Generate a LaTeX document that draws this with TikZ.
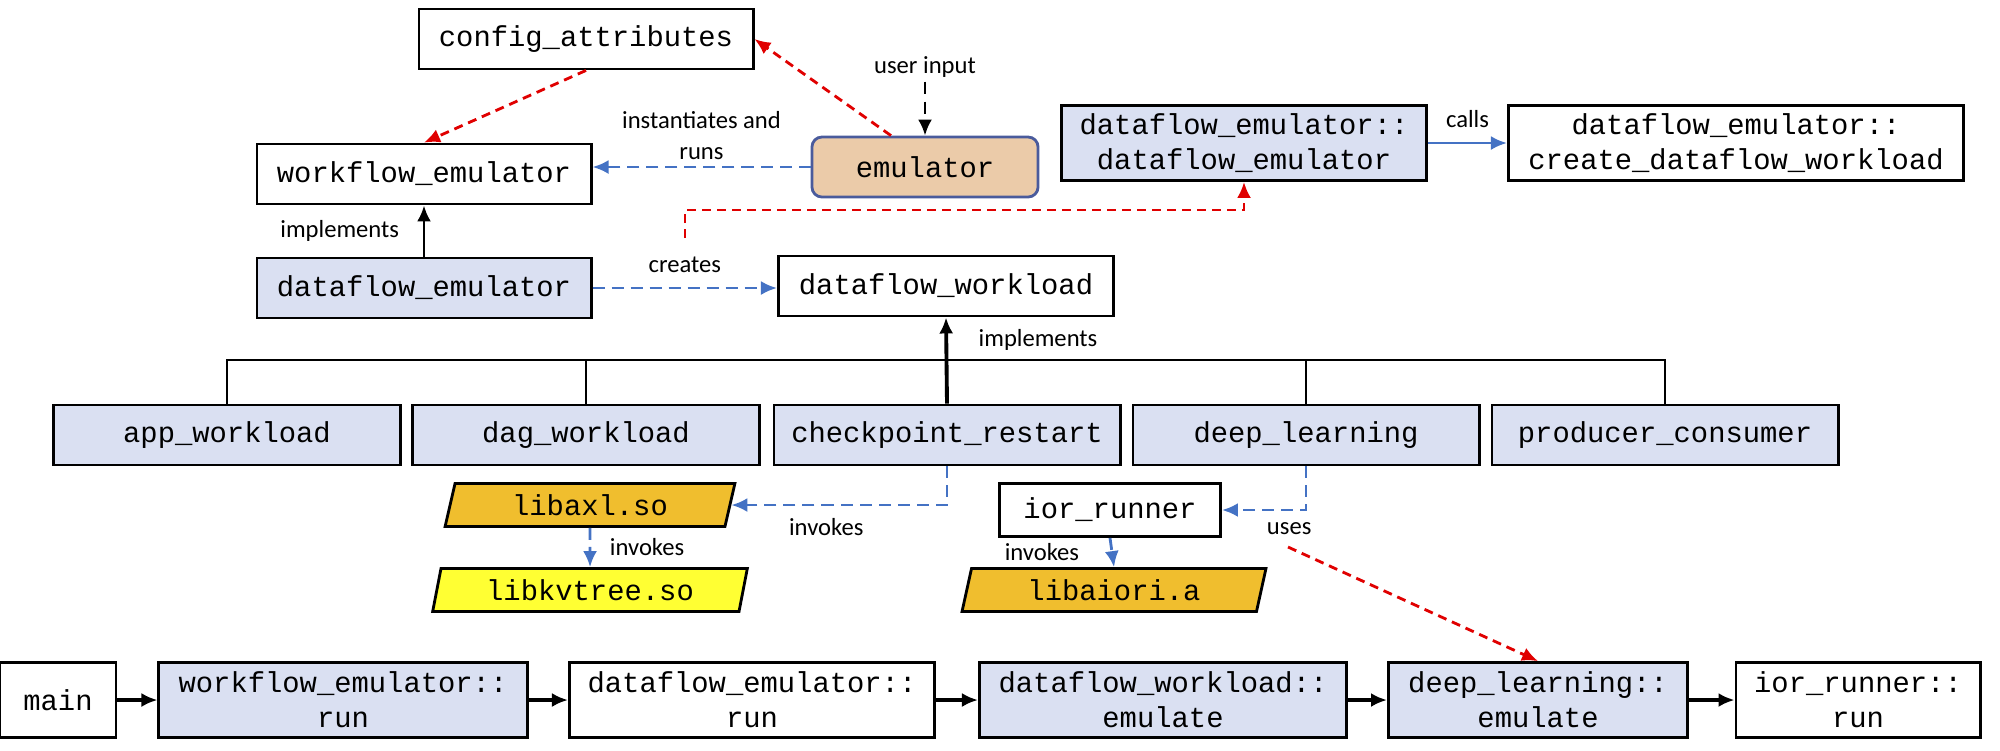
\documentclass[tikz,border=0pt]{standalone}
\usepackage{fontspec}
\setmainfont{Carlito}
\setmonofont{Liberation Mono}
\usetikzlibrary{arrows.meta,shapes.geometric}
\definecolor{clsblue}{HTML}{DAE0F2}
\definecolor{emupeach}{HTML}{EBCBA9}
\definecolor{emuedge}{HTML}{4A5B9C}
\definecolor{libgold}{HTML}{F0BE2E}
\definecolor{libyellow}{HTML}{FFFF33}
\definecolor{linkblue}{HTML}{4472C4}
\definecolor{linkred}{HTML}{E00000}
\begin{document}
\begin{tikzpicture}[x=0.01cm,y=-0.01cm,
  box/.style={draw,line width=0.8pt,minimum height=6mm,inner sep=1pt,align=center,font=\fontsize{8.2}{10}\selectfont\ttfamily},
  cls/.style={box,fill=clsblue},
  lib/.style={box,trapezium,trapezium left angle=78,trapezium right angle=102,trapezium stretches=true,minimum height=4.3mm},
  lbl/.style={inner sep=1pt,align=center,font=\fontsize{7}{8.8}\selectfont},
  tip/.style={-{Latex[length=1.6mm,width=1.4mm]}},
  bdash/.style={tip,draw=linkblue,line width=0.8pt,dash pattern=on 1.2mm off 0.7mm},
  rdash/.style={tip,draw=linkred,line width=0.8pt,dash pattern=on 0.9mm off 0.6mm}]
\useasboundingbox (0,0) rectangle (2000,750);

% 設定とエミュレータ
\node[box,minimum width=33.4mm] (cfg) at (586,39) {config\_attributes};
\node[box,fill=emupeach,draw=emuedge,rounded corners=1mm,minimum width=22.6mm] (emu) at (925,167) {emulator};
\node[lbl] (luser) at (925,67) {user input};
\draw[tip,line width=0.8pt,dash pattern=on 1.2mm off 0.8mm] (luser) -- (emu);

% ワークフロー
\node[box,minimum width=33.4mm] (wfe) at (424,174) {workflow\_emulator};
\node[cls,minimum width=33.4mm] (dfe) at (424,288) {dataflow\_emulator};
\node[box,minimum width=33.5mm] (dfw) at (946,286) {dataflow\_workload};
\node[cls,minimum width=36.5mm,minimum height=7.5mm] (dfedfe) at (1244,143) {dataflow\_emulator::\\dataflow\_emulator};
\node[box,minimum width=45.5mm,minimum height=7.5mm] (cdw) at (1736,143) {dataflow\_emulator::\\create\_dataflow\_workload};

% 上段の矢印
\draw[rdash] ([xshift=-3.4mm]emu.north) -- (cfg.east);
\draw[rdash] (cfg.south) -- (wfe.north);
\draw[bdash] (emu.west) -- node[lbl,above=0.6mm,inner sep=0pt]{instantiates and\\runs} (emu.west -| wfe.east);
\draw[tip,line width=0.8pt] (dfe) -- node[lbl,left=2mm]{implements} (wfe);
\draw[bdash] (dfe.east) -- node[lbl,above=1mm]{creates} (dfe.east -| dfw.west);
\coordinate (crt) at (685,238);
\draw[rdash] (crt) -- ++(0,-28) -| (dfedfe.south);
\draw[tip,draw=linkblue,line width=0.8pt] (dfedfe.east) -- node[lbl,above=1mm]{calls} (cdw.west);

% ワークロード
\node[cls,minimum width=34.6mm] (app) at (227,435) {app\_workload};
\node[cls,minimum width=34.6mm] (dag) at (586,435) {dag\_workload};
\node[cls,minimum width=34.6mm] (ckp) at (947,435) {checkpoint\_restart};
\node[cls,minimum width=34.6mm] (dlr) at (1306,435) {deep\_learning};
\node[cls,minimum width=34.6mm] (prc) at (1665,435) {producer\_consumer};

% 継承の線
\coordinate (bus) at (0,360);
\draw[line width=0.8pt] (app.north) |- (bus -| prc.north) -- (prc.north);
\draw[line width=0.8pt] (dag.north) -- (dag.north |- bus);
\draw[line width=0.8pt] (dlr.north) -- (dlr.north |- bus);
\draw[tip,line width=1.1pt] (ckp.north) -- (dfw.south);
\node[lbl] (limp) at (1038,340) {implements};

% ライブラリ
\node[lib,fill=libgold,minimum width=29mm] (axl) at (590,505) {libaxl.so};
\node[lib,fill=libyellow,minimum width=31.5mm] (kvt) at (590,590) {libkvtree.so};
\node[box,minimum width=22.1mm,minimum height=5.3mm] (ior) at (1110,510) {ior\_runner};
\node[lib,fill=libgold,minimum width=30.4mm] (aio) at (1114,590) {libaiori.a};

\draw[bdash] (ckp.south) |- node[lbl,pos=0.78,below=0.8mm]{invokes} (axl.east);
\draw[bdash] (axl.south) -- node[lbl,right=1.5mm]{invokes} (kvt.north);
\draw[bdash] (dlr.south) |- node[lbl,pos=0.6,below=0.8mm]{uses} (ior.east);
\draw[bdash] (ior.south) -- node[lbl,left=2.8mm]{invokes} (aio.north);

% 呼び出しの流れ
\node[box,minimum width=11.6mm,minimum height=7.5mm] (main) at (58,700) {main};
\node[cls,minimum width=36.8mm,minimum height=7.5mm] (wfr) at (343,700) {workflow\_emulator::\\run};
\node[box,minimum width=36.5mm,minimum height=7.5mm] (dfr) at (752,700) {dataflow\_emulator::\\run};
\node[cls,minimum width=36.7mm,minimum height=7.5mm] (dwe) at (1163,700) {dataflow\_workload::\\emulate};
\node[cls,minimum width=29.9mm,minimum height=7.5mm] (dle) at (1538,700) {deep\_learning::\\emulate};
\node[box,minimum width=24.4mm,minimum height=7.5mm] (irr) at (1858,700) {ior\_runner::\\run};

\draw[tip,line width=1.1pt] (main) -- (wfr);
\draw[tip,line width=1.1pt] (wfr) -- (dfr);
\draw[tip,line width=1.1pt] (dfr) -- (dwe);
\draw[tip,line width=1.1pt] (dwe) -- (dle);
\draw[tip,line width=1.1pt] (dle) -- (irr);

\coordinate (usd) at (1288,547);
\draw[rdash] (usd) -- (dle.north);
\end{tikzpicture}
\end{document}
